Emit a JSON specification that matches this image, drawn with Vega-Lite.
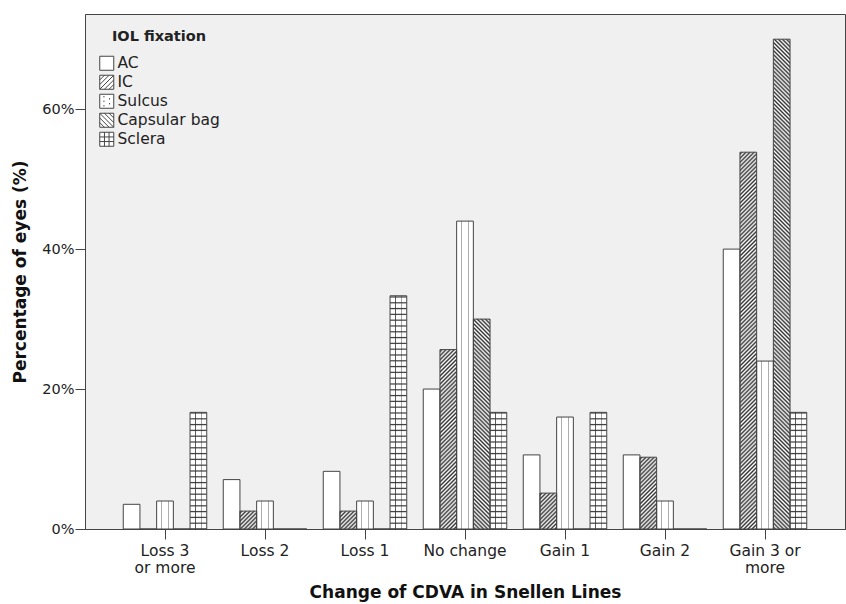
{
  "$schema": "https://vega.github.io/schema/vega-lite/v6.json",
  "width": 760,
  "height": 515,
  "autosize": {"type": "none"},
  "padding": {"left": 85, "top": 14, "right": 1, "bottom": 75},
  "background": "white",
  "config": {
    "font": "DejaVu Sans",
    "view": {"fill": "#f0f0f0", "stroke": "#444", "strokeWidth": 1}
  },
  "params": [
    {"name": "dots", "value": [
      {"offset": 0, "color": "#fff"}, {"offset": 0.25, "color": "#fff"}, {"offset": 0.3, "color": "#999"}, {"offset": 0.35, "color": "#fff"},
      {"offset": 0.65, "color": "#fff"}, {"offset": 0.7, "color": "#999"}, {"offset": 0.75, "color": "#fff"}, {"offset": 1, "color": "#fff"}
    ]},
    {"name": "vlines", "value": [
      {"offset": 0, "color": "rgba(51,51,51,0)"}, {"offset": 0.3, "color": "rgba(51,51,51,0)"}, {"offset": 0.333, "color": "#333"}, {"offset": 0.366, "color": "rgba(51,51,51,0)"},
      {"offset": 0.634, "color": "rgba(51,51,51,0)"}, {"offset": 0.667, "color": "#333"}, {"offset": 0.7, "color": "rgba(51,51,51,0)"}, {"offset": 1, "color": "rgba(51,51,51,0)"}
    ]},
    {"name": "hl", "value": [
      {"offset":0,"color":"#333"},{"offset":0.004,"color":"rgba(51,51,51,0)"},{"offset":0.016,"color":"rgba(51,51,51,0)"},
      {"offset":0.02,"color":"#333"},{"offset":0.024,"color":"rgba(51,51,51,0)"},{"offset":0.036,"color":"rgba(51,51,51,0)"},
      {"offset":0.04,"color":"#333"},{"offset":0.044,"color":"rgba(51,51,51,0)"},{"offset":0.056,"color":"rgba(51,51,51,0)"},
      {"offset":0.06,"color":"#333"},{"offset":0.064,"color":"rgba(51,51,51,0)"},{"offset":0.076,"color":"rgba(51,51,51,0)"},
      {"offset":0.08,"color":"#333"},{"offset":0.084,"color":"rgba(51,51,51,0)"},{"offset":0.096,"color":"rgba(51,51,51,0)"},
      {"offset":0.1,"color":"#333"},{"offset":0.104,"color":"rgba(51,51,51,0)"},{"offset":0.116,"color":"rgba(51,51,51,0)"},
      {"offset":0.12,"color":"#333"},{"offset":0.124,"color":"rgba(51,51,51,0)"},{"offset":0.136,"color":"rgba(51,51,51,0)"},
      {"offset":0.14,"color":"#333"},{"offset":0.144,"color":"rgba(51,51,51,0)"},{"offset":0.156,"color":"rgba(51,51,51,0)"},
      {"offset":0.16,"color":"#333"},{"offset":0.164,"color":"rgba(51,51,51,0)"},{"offset":0.176,"color":"rgba(51,51,51,0)"},
      {"offset":0.18,"color":"#333"},{"offset":0.184,"color":"rgba(51,51,51,0)"},{"offset":0.196,"color":"rgba(51,51,51,0)"},
      {"offset":0.2,"color":"#333"},{"offset":0.204,"color":"rgba(51,51,51,0)"},{"offset":0.216,"color":"rgba(51,51,51,0)"},
      {"offset":0.22,"color":"#333"},{"offset":0.224,"color":"rgba(51,51,51,0)"},{"offset":0.236,"color":"rgba(51,51,51,0)"},
      {"offset":0.24,"color":"#333"},{"offset":0.244,"color":"rgba(51,51,51,0)"},{"offset":0.256,"color":"rgba(51,51,51,0)"},
      {"offset":0.26,"color":"#333"},{"offset":0.264,"color":"rgba(51,51,51,0)"},{"offset":0.276,"color":"rgba(51,51,51,0)"},
      {"offset":0.28,"color":"#333"},{"offset":0.284,"color":"rgba(51,51,51,0)"},{"offset":0.296,"color":"rgba(51,51,51,0)"},
      {"offset":0.3,"color":"#333"},{"offset":0.304,"color":"rgba(51,51,51,0)"},{"offset":0.316,"color":"rgba(51,51,51,0)"},
      {"offset":0.32,"color":"#333"},{"offset":0.324,"color":"rgba(51,51,51,0)"},{"offset":0.336,"color":"rgba(51,51,51,0)"},
      {"offset":0.34,"color":"#333"},{"offset":0.344,"color":"rgba(51,51,51,0)"},{"offset":0.356,"color":"rgba(51,51,51,0)"},
      {"offset":0.36,"color":"#333"},{"offset":0.364,"color":"rgba(51,51,51,0)"},{"offset":0.376,"color":"rgba(51,51,51,0)"},
      {"offset":0.38,"color":"#333"},{"offset":0.384,"color":"rgba(51,51,51,0)"},{"offset":0.396,"color":"rgba(51,51,51,0)"},
      {"offset":0.4,"color":"#333"},{"offset":0.404,"color":"rgba(51,51,51,0)"},{"offset":0.416,"color":"rgba(51,51,51,0)"},
      {"offset":0.42,"color":"#333"},{"offset":0.424,"color":"rgba(51,51,51,0)"},{"offset":0.436,"color":"rgba(51,51,51,0)"},
      {"offset":0.44,"color":"#333"},{"offset":0.444,"color":"rgba(51,51,51,0)"},{"offset":0.456,"color":"rgba(51,51,51,0)"},
      {"offset":0.46,"color":"#333"},{"offset":0.464,"color":"rgba(51,51,51,0)"},{"offset":0.476,"color":"rgba(51,51,51,0)"},
      {"offset":0.48,"color":"#333"},{"offset":0.484,"color":"rgba(51,51,51,0)"},{"offset":0.496,"color":"rgba(51,51,51,0)"},
      {"offset":0.5,"color":"#333"},{"offset":0.504,"color":"rgba(51,51,51,0)"},{"offset":0.516,"color":"rgba(51,51,51,0)"},
      {"offset":0.52,"color":"#333"},{"offset":0.524,"color":"rgba(51,51,51,0)"},{"offset":0.536,"color":"rgba(51,51,51,0)"},
      {"offset":0.54,"color":"#333"},{"offset":0.544,"color":"rgba(51,51,51,0)"},{"offset":0.556,"color":"rgba(51,51,51,0)"},
      {"offset":0.56,"color":"#333"},{"offset":0.564,"color":"rgba(51,51,51,0)"},{"offset":0.576,"color":"rgba(51,51,51,0)"},
      {"offset":0.58,"color":"#333"},{"offset":0.584,"color":"rgba(51,51,51,0)"},{"offset":0.596,"color":"rgba(51,51,51,0)"},
      {"offset":0.6,"color":"#333"},{"offset":0.604,"color":"rgba(51,51,51,0)"},{"offset":0.616,"color":"rgba(51,51,51,0)"},
      {"offset":0.62,"color":"#333"},{"offset":0.624,"color":"rgba(51,51,51,0)"},{"offset":0.636,"color":"rgba(51,51,51,0)"},
      {"offset":0.64,"color":"#333"},{"offset":0.644,"color":"rgba(51,51,51,0)"},{"offset":0.656,"color":"rgba(51,51,51,0)"},
      {"offset":0.66,"color":"#333"},{"offset":0.664,"color":"rgba(51,51,51,0)"},{"offset":0.676,"color":"rgba(51,51,51,0)"},
      {"offset":0.68,"color":"#333"},{"offset":0.684,"color":"rgba(51,51,51,0)"},{"offset":0.696,"color":"rgba(51,51,51,0)"},
      {"offset":0.7,"color":"#333"},{"offset":0.704,"color":"rgba(51,51,51,0)"},{"offset":0.716,"color":"rgba(51,51,51,0)"},
      {"offset":0.72,"color":"#333"},{"offset":0.724,"color":"rgba(51,51,51,0)"},{"offset":0.736,"color":"rgba(51,51,51,0)"},
      {"offset":0.74,"color":"#333"},{"offset":0.744,"color":"rgba(51,51,51,0)"},{"offset":0.756,"color":"rgba(51,51,51,0)"},
      {"offset":0.76,"color":"#333"},{"offset":0.764,"color":"rgba(51,51,51,0)"},{"offset":0.776,"color":"rgba(51,51,51,0)"},
      {"offset":0.78,"color":"#333"},{"offset":0.784,"color":"rgba(51,51,51,0)"},{"offset":0.796,"color":"rgba(51,51,51,0)"},
      {"offset":0.8,"color":"#333"},{"offset":0.804,"color":"rgba(51,51,51,0)"},{"offset":0.816,"color":"rgba(51,51,51,0)"},
      {"offset":0.82,"color":"#333"},{"offset":0.824,"color":"rgba(51,51,51,0)"},{"offset":0.836,"color":"rgba(51,51,51,0)"},
      {"offset":0.84,"color":"#333"},{"offset":0.844,"color":"rgba(51,51,51,0)"},{"offset":0.856,"color":"rgba(51,51,51,0)"},
      {"offset":0.86,"color":"#333"},{"offset":0.864,"color":"rgba(51,51,51,0)"},{"offset":0.876,"color":"rgba(51,51,51,0)"},
      {"offset":0.88,"color":"#333"},{"offset":0.884,"color":"rgba(51,51,51,0)"},{"offset":0.896,"color":"rgba(51,51,51,0)"},
      {"offset":0.9,"color":"#333"},{"offset":0.904,"color":"rgba(51,51,51,0)"},{"offset":0.916,"color":"rgba(51,51,51,0)"},
      {"offset":0.92,"color":"#333"},{"offset":0.924,"color":"rgba(51,51,51,0)"},{"offset":0.936,"color":"rgba(51,51,51,0)"},
      {"offset":0.94,"color":"#333"},{"offset":0.944,"color":"rgba(51,51,51,0)"},{"offset":0.956,"color":"rgba(51,51,51,0)"},
      {"offset":0.96,"color":"#333"},{"offset":0.964,"color":"rgba(51,51,51,0)"},{"offset":0.976,"color":"rgba(51,51,51,0)"},
      {"offset":0.98,"color":"#333"},{"offset":0.984,"color":"rgba(51,51,51,0)"},{"offset":0.996,"color":"rgba(51,51,51,0)"},
      {"offset":1,"color":"#333"}
    ]},
    {"name": "diag", "value": [
      {"offset":0,"color":"#fff"},{"offset":0.004,"color":"#333"},{"offset":0.008,"color":"#fff"},{"offset":0.012,"color":"#333"},{"offset":0.016,"color":"#fff"},{"offset":0.02,"color":"#333"},{"offset":0.024,"color":"#fff"},{"offset":0.028,"color":"#333"},{"offset":0.032,"color":"#fff"},{"offset":0.036,"color":"#333"},
      {"offset":0.04,"color":"#fff"},{"offset":0.044,"color":"#333"},{"offset":0.048,"color":"#fff"},{"offset":0.052,"color":"#333"},{"offset":0.056,"color":"#fff"},{"offset":0.06,"color":"#333"},{"offset":0.064,"color":"#fff"},{"offset":0.068,"color":"#333"},{"offset":0.072,"color":"#fff"},{"offset":0.076,"color":"#333"},
      {"offset":0.08,"color":"#fff"},{"offset":0.084,"color":"#333"},{"offset":0.088,"color":"#fff"},{"offset":0.092,"color":"#333"},{"offset":0.096,"color":"#fff"},{"offset":0.1,"color":"#333"},{"offset":0.104,"color":"#fff"},{"offset":0.108,"color":"#333"},{"offset":0.112,"color":"#fff"},{"offset":0.116,"color":"#333"},
      {"offset":0.12,"color":"#fff"},{"offset":0.124,"color":"#333"},{"offset":0.128,"color":"#fff"},{"offset":0.132,"color":"#333"},{"offset":0.136,"color":"#fff"},{"offset":0.14,"color":"#333"},{"offset":0.144,"color":"#fff"},{"offset":0.148,"color":"#333"},{"offset":0.152,"color":"#fff"},{"offset":0.156,"color":"#333"},
      {"offset":0.16,"color":"#fff"},{"offset":0.164,"color":"#333"},{"offset":0.168,"color":"#fff"},{"offset":0.172,"color":"#333"},{"offset":0.176,"color":"#fff"},{"offset":0.18,"color":"#333"},{"offset":0.184,"color":"#fff"},{"offset":0.188,"color":"#333"},{"offset":0.192,"color":"#fff"},{"offset":0.196,"color":"#333"},
      {"offset":0.2,"color":"#fff"},{"offset":0.204,"color":"#333"},{"offset":0.208,"color":"#fff"},{"offset":0.212,"color":"#333"},{"offset":0.216,"color":"#fff"},{"offset":0.22,"color":"#333"},{"offset":0.224,"color":"#fff"},{"offset":0.228,"color":"#333"},{"offset":0.232,"color":"#fff"},{"offset":0.236,"color":"#333"},
      {"offset":0.24,"color":"#fff"},{"offset":0.244,"color":"#333"},{"offset":0.248,"color":"#fff"},{"offset":0.252,"color":"#333"},{"offset":0.256,"color":"#fff"},{"offset":0.26,"color":"#333"},{"offset":0.264,"color":"#fff"},{"offset":0.268,"color":"#333"},{"offset":0.272,"color":"#fff"},{"offset":0.276,"color":"#333"},
      {"offset":0.28,"color":"#fff"},{"offset":0.284,"color":"#333"},{"offset":0.288,"color":"#fff"},{"offset":0.292,"color":"#333"},{"offset":0.296,"color":"#fff"},{"offset":0.3,"color":"#333"},{"offset":0.304,"color":"#fff"},{"offset":0.308,"color":"#333"},{"offset":0.312,"color":"#fff"},{"offset":0.316,"color":"#333"},
      {"offset":0.32,"color":"#fff"},{"offset":0.324,"color":"#333"},{"offset":0.328,"color":"#fff"},{"offset":0.332,"color":"#333"},{"offset":0.336,"color":"#fff"},{"offset":0.34,"color":"#333"},{"offset":0.344,"color":"#fff"},{"offset":0.348,"color":"#333"},{"offset":0.352,"color":"#fff"},{"offset":0.356,"color":"#333"},
      {"offset":0.36,"color":"#fff"},{"offset":0.364,"color":"#333"},{"offset":0.368,"color":"#fff"},{"offset":0.372,"color":"#333"},{"offset":0.376,"color":"#fff"},{"offset":0.38,"color":"#333"},{"offset":0.384,"color":"#fff"},{"offset":0.388,"color":"#333"},{"offset":0.392,"color":"#fff"},{"offset":0.396,"color":"#333"},
      {"offset":0.4,"color":"#fff"},{"offset":0.404,"color":"#333"},{"offset":0.408,"color":"#fff"},{"offset":0.412,"color":"#333"},{"offset":0.416,"color":"#fff"},{"offset":0.42,"color":"#333"},{"offset":0.424,"color":"#fff"},{"offset":0.428,"color":"#333"},{"offset":0.432,"color":"#fff"},{"offset":0.436,"color":"#333"},
      {"offset":0.44,"color":"#fff"},{"offset":0.444,"color":"#333"},{"offset":0.448,"color":"#fff"},{"offset":0.452,"color":"#333"},{"offset":0.456,"color":"#fff"},{"offset":0.46,"color":"#333"},{"offset":0.464,"color":"#fff"},{"offset":0.468,"color":"#333"},{"offset":0.472,"color":"#fff"},{"offset":0.476,"color":"#333"},
      {"offset":0.48,"color":"#fff"},{"offset":0.484,"color":"#333"},{"offset":0.488,"color":"#fff"},{"offset":0.492,"color":"#333"},{"offset":0.496,"color":"#fff"},{"offset":0.5,"color":"#333"},{"offset":0.504,"color":"#fff"},{"offset":0.508,"color":"#333"},{"offset":0.512,"color":"#fff"},{"offset":0.516,"color":"#333"},
      {"offset":0.52,"color":"#fff"},{"offset":0.524,"color":"#333"},{"offset":0.528,"color":"#fff"},{"offset":0.532,"color":"#333"},{"offset":0.536,"color":"#fff"},{"offset":0.54,"color":"#333"},{"offset":0.544,"color":"#fff"},{"offset":0.548,"color":"#333"},{"offset":0.552,"color":"#fff"},{"offset":0.556,"color":"#333"},
      {"offset":0.56,"color":"#fff"},{"offset":0.564,"color":"#333"},{"offset":0.568,"color":"#fff"},{"offset":0.572,"color":"#333"},{"offset":0.576,"color":"#fff"},{"offset":0.58,"color":"#333"},{"offset":0.584,"color":"#fff"},{"offset":0.588,"color":"#333"},{"offset":0.592,"color":"#fff"},{"offset":0.596,"color":"#333"},
      {"offset":0.6,"color":"#fff"},{"offset":0.604,"color":"#333"},{"offset":0.608,"color":"#fff"},{"offset":0.612,"color":"#333"},{"offset":0.616,"color":"#fff"},{"offset":0.62,"color":"#333"},{"offset":0.624,"color":"#fff"},{"offset":0.628,"color":"#333"},{"offset":0.632,"color":"#fff"},{"offset":0.636,"color":"#333"},
      {"offset":0.64,"color":"#fff"},{"offset":0.644,"color":"#333"},{"offset":0.648,"color":"#fff"},{"offset":0.652,"color":"#333"},{"offset":0.656,"color":"#fff"},{"offset":0.66,"color":"#333"},{"offset":0.664,"color":"#fff"},{"offset":0.668,"color":"#333"},{"offset":0.672,"color":"#fff"},{"offset":0.676,"color":"#333"},
      {"offset":0.68,"color":"#fff"},{"offset":0.684,"color":"#333"},{"offset":0.688,"color":"#fff"},{"offset":0.692,"color":"#333"},{"offset":0.696,"color":"#fff"},{"offset":0.7,"color":"#333"},{"offset":0.704,"color":"#fff"},{"offset":0.708,"color":"#333"},{"offset":0.712,"color":"#fff"},{"offset":0.716,"color":"#333"},
      {"offset":0.72,"color":"#fff"},{"offset":0.724,"color":"#333"},{"offset":0.728,"color":"#fff"},{"offset":0.732,"color":"#333"},{"offset":0.736,"color":"#fff"},{"offset":0.74,"color":"#333"},{"offset":0.744,"color":"#fff"},{"offset":0.748,"color":"#333"},{"offset":0.752,"color":"#fff"},{"offset":0.756,"color":"#333"},
      {"offset":0.76,"color":"#fff"},{"offset":0.764,"color":"#333"},{"offset":0.768,"color":"#fff"},{"offset":0.772,"color":"#333"},{"offset":0.776,"color":"#fff"},{"offset":0.78,"color":"#333"},{"offset":0.784,"color":"#fff"},{"offset":0.788,"color":"#333"},{"offset":0.792,"color":"#fff"},{"offset":0.796,"color":"#333"},
      {"offset":0.8,"color":"#fff"},{"offset":0.804,"color":"#333"},{"offset":0.808,"color":"#fff"},{"offset":0.812,"color":"#333"},{"offset":0.816,"color":"#fff"},{"offset":0.82,"color":"#333"},{"offset":0.824,"color":"#fff"},{"offset":0.828,"color":"#333"},{"offset":0.832,"color":"#fff"},{"offset":0.836,"color":"#333"},
      {"offset":0.84,"color":"#fff"},{"offset":0.844,"color":"#333"},{"offset":0.848,"color":"#fff"},{"offset":0.852,"color":"#333"},{"offset":0.856,"color":"#fff"},{"offset":0.86,"color":"#333"},{"offset":0.864,"color":"#fff"},{"offset":0.868,"color":"#333"},{"offset":0.872,"color":"#fff"},{"offset":0.876,"color":"#333"},
      {"offset":0.88,"color":"#fff"},{"offset":0.884,"color":"#333"},{"offset":0.888,"color":"#fff"},{"offset":0.892,"color":"#333"},{"offset":0.896,"color":"#fff"},{"offset":0.9,"color":"#333"},{"offset":0.904,"color":"#fff"},{"offset":0.908,"color":"#333"},{"offset":0.912,"color":"#fff"},{"offset":0.916,"color":"#333"},
      {"offset":0.92,"color":"#fff"},{"offset":0.924,"color":"#333"},{"offset":0.928,"color":"#fff"},{"offset":0.932,"color":"#333"},{"offset":0.936,"color":"#fff"},{"offset":0.94,"color":"#333"},{"offset":0.944,"color":"#fff"},{"offset":0.948,"color":"#333"},{"offset":0.952,"color":"#fff"},{"offset":0.956,"color":"#333"},
      {"offset":0.96,"color":"#fff"},{"offset":0.964,"color":"#333"},{"offset":0.968,"color":"#fff"},{"offset":0.972,"color":"#333"},{"offset":0.976,"color":"#fff"},{"offset":0.98,"color":"#333"},{"offset":0.984,"color":"#fff"},{"offset":0.988,"color":"#333"},{"offset":0.992,"color":"#fff"},{"offset":0.996,"color":"#333"},
      {"offset":1,"color":"#fff"}
    ]}
  ],
  "data": {"values": [
    {"change": "Loss 3 or more", "fixation": "AC", "pct": 3.53},
    {"change": "Loss 3 or more", "fixation": "IC", "pct": 0},
    {"change": "Loss 3 or more", "fixation": "Sulcus", "pct": 4.0},
    {"change": "Loss 3 or more", "fixation": "Capsular bag", "pct": 0},
    {"change": "Loss 3 or more", "fixation": "Sclera", "pct": 16.67},
    {"change": "Loss 2", "fixation": "AC", "pct": 7.06},
    {"change": "Loss 2", "fixation": "IC", "pct": 2.56},
    {"change": "Loss 2", "fixation": "Sulcus", "pct": 4.0},
    {"change": "Loss 2", "fixation": "Capsular bag", "pct": 0},
    {"change": "Loss 2", "fixation": "Sclera", "pct": 0},
    {"change": "Loss 1", "fixation": "AC", "pct": 8.24},
    {"change": "Loss 1", "fixation": "IC", "pct": 2.56},
    {"change": "Loss 1", "fixation": "Sulcus", "pct": 4.0},
    {"change": "Loss 1", "fixation": "Capsular bag", "pct": 0},
    {"change": "Loss 1", "fixation": "Sclera", "pct": 33.33},
    {"change": "No change", "fixation": "AC", "pct": 20.0},
    {"change": "No change", "fixation": "IC", "pct": 25.64},
    {"change": "No change", "fixation": "Sulcus", "pct": 44.0},
    {"change": "No change", "fixation": "Capsular bag", "pct": 30.0},
    {"change": "No change", "fixation": "Sclera", "pct": 16.67},
    {"change": "Gain 1", "fixation": "AC", "pct": 10.59},
    {"change": "Gain 1", "fixation": "IC", "pct": 5.13},
    {"change": "Gain 1", "fixation": "Sulcus", "pct": 16.0},
    {"change": "Gain 1", "fixation": "Capsular bag", "pct": 0},
    {"change": "Gain 1", "fixation": "Sclera", "pct": 16.67},
    {"change": "Gain 2", "fixation": "AC", "pct": 10.59},
    {"change": "Gain 2", "fixation": "IC", "pct": 10.26},
    {"change": "Gain 2", "fixation": "Sulcus", "pct": 4.0},
    {"change": "Gain 2", "fixation": "Capsular bag", "pct": 0},
    {"change": "Gain 2", "fixation": "Sclera", "pct": 0},
    {"change": "Gain 3 or more", "fixation": "AC", "pct": 40.0},
    {"change": "Gain 3 or more", "fixation": "IC", "pct": 53.85},
    {"change": "Gain 3 or more", "fixation": "Sulcus", "pct": 24.0},
    {"change": "Gain 3 or more", "fixation": "Capsular bag", "pct": 70.0},
    {"change": "Gain 3 or more", "fixation": "Sclera", "pct": 16.67}
  ]},
  "encoding": {
    "x": {
      "field": "change", "type": "nominal",
      "sort": ["Loss 3 or more", "Loss 2", "Loss 1", "No change", "Gain 1", "Gain 2", "Gain 3 or more"],
      "scale": {"paddingInner": 0.165, "paddingOuter": 0.3825},
      "axis": {
        "title": "Change of CDVA in Snellen Lines",
        "titleFontSize": 17, "titleFontWeight": "bold", "titleColor": "#111", "titlePadding": 9,
        "labelAngle": 0, "labelFontSize": 15.5, "labelLineHeight": 17, "labelColor": "#222",
        "labelPadding": 4, "labelOverlap": false, "labelBound": false,
        "labelExpr": "datum.value === 'Loss 3 or more' ? ['Loss 3', 'or more'] : datum.value === 'Gain 3 or more' ? ['Gain 3 or', 'more'] : datum.value",
        "tickSize": 10, "tickColor": "#444", "domainColor": "#444", "grid": false
      }
    },
    "xOffset": {
      "field": "fixation", "type": "nominal",
      "scale": {"domain": ["AC", "IC", "Sulcus", "Capsular bag", "Sclera"], "paddingInner": 0, "paddingOuter": 0}
    },
    "y": {
      "field": "pct", "type": "quantitative", "stack": null,
      "scale": {"domain": [0, 73.6], "nice": false},
      "axis": {
        "title": "Percentage of eyes (%)",
        "titleFontSize": 17, "titleFontWeight": "bold", "titleColor": "#111", "titlePadding": 12,
        "values": [0, 20, 40, 60], "labelExpr": "datum.value + '%'",
        "labelFontSize": 14.5, "labelColor": "#222", "labelPadding": 1,
        "tickSize": 10, "tickColor": "#444", "domainColor": "#444", "grid": false
      }
    }
  },
  "layer": [
    {"mark": {"type": "bar", "fill": "white"}},
    {"mark": {"type": "bar", "fill": {"expr": "datum.pct <= 0 ? 'transparent' : datum.fixation === 'IC' ? {gradient: 'linear', x1: 0, y1: 0, x2: 8502 / (278.9 + 48.96 * datum.pct * datum.pct), y2: 3562 * datum.pct / (278.9 + 48.96 * datum.pct * datum.pct), stops: diag} : datum.fixation === 'Capsular bag' ? {gradient: 'linear', x1: 0, y1: 1, x2: 8502 / (278.9 + 48.96 * datum.pct * datum.pct), y2: 1 - 3562 * datum.pct / (278.9 + 48.96 * datum.pct * datum.pct), stops: diag} : datum.fixation === 'Sulcus' ? {gradient: 'linear', x1: 0, y1: 0, x2: 1, y2: 0, stops: dots} : datum.fixation === 'Sclera' ? {gradient: 'linear', x1: 0, y1: 0, x2: 1, y2: 0, stops: vlines} : 'transparent'"}}},
    {"mark": {"type": "bar", "fill": {"expr": "datum.fixation === 'Sclera' && datum.pct > 0 ? {gradient: 'linear', x1: 0, y1: 1, x2: 0, y2: 1 - 41.45 / datum.pct, stops: hl} : 'transparent'"}}},
    {"mark": {"type": "bar", "fill": "white", "fillOpacity": 0, "stroke": "#444", "strokeWidth": 1}},
    {
      "mark": {"type": "point", "filled": true, "fill": "white", "strokeWidth": 1, "opacity": 0},
      "encoding": {
        "shape": {
          "field": "fixation", "type": "nominal",
          "scale": {
            "domain": ["AC", "IC", "Sulcus", "Capsular bag", "Sclera"],
            "range": [
              "M-1,-1H1V1H-1Z",
              "M-1,-1H1V1H-1Z M-1,-0.33L-0.33,-1 M-1,0.33L0.33,-1 M-1,1L1,-1 M-0.33,1L1,-0.33 M0.33,1L1,0.33",
              "M-1,-1H1V1H-1Z M-0.4,-0.75V-0.55 M-0.4,-0.1V0.1 M-0.4,0.55V0.75 M0.4,-0.45V-0.25 M0.4,0.25V0.45",
              "M-1,-1H1V1H-1Z M-1,-1L1,1 M-0.33,-1L1,0.33 M0.33,-1L1,-0.33 M-1,-0.33L0.33,1 M-1,0.33L-0.33,1",
              "M-1,-1H1V1H-1Z M-0.33,-1V1 M0.33,-1V1 M-1,-0.33H1 M-1,0.33H1"
            ]
          },
          "legend": {
            "title": "IOL fixation", "orient": "none", "legendX": 14, "legendY": 16, "padding": 0,
            "titleAnchor": "middle", "titleFontSize": 14.5, "titleFontWeight": "bold", "titleColor": "#222", "titlePadding": 11,
            "labelFontSize": 15.5, "labelColor": "#222", "labelOffset": 3,
            "symbolSize": 196, "rowPadding": 0, "symbolStrokeWidth": 1,
            "symbolOpacity": 1, "symbolFillColor": "white", "symbolStrokeColor": "#444"
          }
        },
        "stroke": {
          "field": "fixation", "type": "nominal",
          "scale": {"domain": ["AC", "IC", "Sulcus", "Capsular bag", "Sclera"], "range": ["#444", "#444", "#444", "#444", "#444"]},
          "legend": {
            "title": "IOL fixation", "orient": "none", "legendX": 14, "legendY": 16, "padding": 0,
            "titleAnchor": "middle", "titleFontSize": 14.5, "titleFontWeight": "bold", "titleColor": "#222", "titlePadding": 11,
            "labelFontSize": 15.5, "labelColor": "#222", "labelOffset": 3,
            "symbolSize": 196, "rowPadding": 0, "symbolStrokeWidth": 1,
            "symbolOpacity": 1, "symbolFillColor": "white", "symbolStrokeColor": "#444"
          }
        }
      }
    }
  ]
}
